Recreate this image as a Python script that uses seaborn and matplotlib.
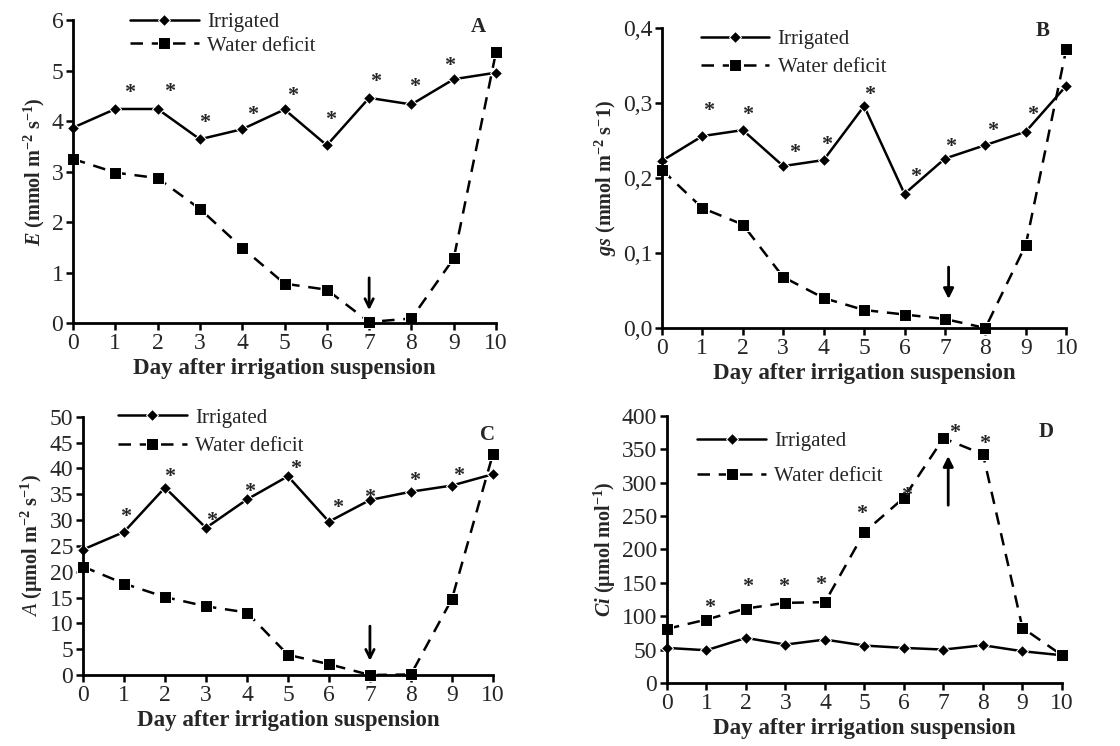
import matplotlib.pyplot as plt
import seaborn as sns

sns.set_style("ticks")
plt.rcParams["font.family"] = ["Liberation Serif", "DejaVu Serif"]
plt.rcParams["mathtext.fontset"] = "custom"
plt.rcParams["mathtext.rm"] = "Liberation Serif:bold"
plt.rcParams["mathtext.it"] = "Liberation Serif:italic"
plt.rcParams["mathtext.bf"] = "Liberation Serif:bold"
plt.rcParams["mathtext.bfit"] = "Liberation Serif:italic:bold"

days = list(range(11))

# panel A - transpiration
e_irr = [3.87, 4.24, 4.24, 3.64, 3.84, 4.23, 3.52, 4.46, 4.33, 4.83, 4.96]
e_def = [3.25, 2.98, 2.87, 2.26, 1.49, 0.78, 0.66, 0.02, 0.09, 1.28, 5.37]
e_star_x = [1.35, 2.28, 3.1, 4.24, 5.2, 6.1, 7.16, 8.08, 8.9]
e_star_y = [4.65, 4.68, 4.05, 4.22, 4.6, 4.12, 4.88, 4.78, 5.19]

# panel B - stomatal conductance
g_irr = [0.223, 0.256, 0.264, 0.216, 0.224, 0.296, 0.179, 0.226, 0.244, 0.262, 0.323]
g_def = [0.211, 0.160, 0.138, 0.068, 0.040, 0.024, 0.018, 0.012, 0.0, 0.111, 0.372]
g_star_x = [1.15, 2.12, 3.28, 4.08, 5.14, 6.28, 7.15, 8.18, 9.17]
g_star_y = [0.296, 0.291, 0.24, 0.251, 0.317, 0.208, 0.248, 0.269, 0.29]

# panel C - net photosynthesis
a_irr = [24.3, 27.7, 36.3, 28.5, 34.0, 38.5, 29.7, 33.9, 35.5, 36.7, 38.9]
a_def = [21.0, 17.7, 15.1, 13.3, 12.1, 3.9, 2.1, 0.0, 0.1, 14.7, 42.8]
a_star_x = [1.04, 2.12, 3.15, 4.07, 5.19, 6.2, 7.0, 8.08, 9.16]
a_star_y = [31.5, 39.2, 30.8, 36.3, 40.8, 33.2, 35.3, 38.5, 39.5]

# panel D - internal CO2
c_irr = [52.5, 49, 67.5, 57.5, 65, 56, 52.5, 50, 56.5, 47.5, 41.5]
c_def = [81, 95, 111.5, 120, 121, 226, 277.5, 366.5, 342.5, 82.5, 41.5]
c_star_x = [1.07, 2.03, 2.96, 3.89, 4.94, 6.07, 7.28, 8.04]
c_star_y = [120, 151, 151, 154, 260, 287, 382, 365]

b_ticks = [0, 0.1, 0.2, 0.3, 0.4]
b_ticklabels = ["0,0", "0,1", "0,2", "0,3", "0,4"]

fig = plt.figure(figsize=(11.2, 7.46), dpi=100)

panels = [
    dict(rect=[0.0652, 0.567, 0.3777, 0.406], irr=e_irr, dfc=e_def, sx=e_star_x, sy=e_star_y,
         ylim=(0, 6), yticks=[0, 1, 2, 3, 4, 5, 6], ytl=None,
         ylabel=r"$\mathbfit{E}$ (mmol m$^{-2}$ s$^{-1}$)", letter="A", lpos=(9.58, 5.87),
         arrow=((7, 0.95), (7, 0.2)), head="->", leg=(0.11, 1.06), lsp=0.2),
    dict(rect=[0.591, 0.5603, 0.361, 0.402], irr=g_irr, dfc=g_def, sx=g_star_x, sy=g_star_y,
         ylim=(0, 0.4), yticks=b_ticks, ytl=b_ticklabels,
         ylabel=r"$\mathbfit{gs}$ (mmol m$^{-2}$ s$^{-}$1)", letter="B", lpos=(9.42, 0.396),
         arrow=((7.09, 0.085), (7.09, 0.035)), head="-|>", leg=(0.07, 1.03), lsp=0.4),
    dict(rect=[0.0741, 0.0952, 0.366, 0.346], irr=a_irr, dfc=a_def, sx=a_star_x, sy=a_star_y,
         ylim=(0, 50), yticks=list(range(0, 51, 5)), ytl=None,
         ylabel=r"$\mathit{A}$ (µmol m$^{-2}$ s$^{-1}$)", letter="C", lpos=(9.87, 46.4),
         arrow=((7, 10), (7, 2.2)), head="->", leg=(0.06, 1.075), lsp=0.45),
    dict(rect=[0.5955, 0.0845, 0.3527, 0.358], irr=c_irr, dfc=c_def, sx=c_star_x, sy=c_star_y,
         ylim=(0, 400), yticks=list(range(0, 401, 50)), ytl=None,
         ylabel=r"$\mathbfit{Ci}$ (µmol mol$^{-1}$)", letter="D", lpos=(9.6, 376),
         arrow=((7.12, 262), (7.12, 344)), head="-|>", leg=(0.05, 0.98), lsp=0.75),
]

for p in panels:
    ax = fig.add_axes(p["rect"])
    sns.lineplot(x=days, y=p["irr"], ax=ax, color="black", lw=1.8, marker="D", markersize=6,
                 label="Irrigated", clip_on=False)
    sns.lineplot(x=days, y=p["dfc"], ax=ax, color="black", lw=1.8, linestyle=(0, (5, 3.5)),
                 marker="s", markersize=8.5, label="Water deficit", clip_on=False)
    # significance asterisks (glyph sits high in its box, so nudge it down)
    for sx, sy in zip(p["sx"], p["sy"]):
        ax.annotate("*", (sx, sy), xytext=(0, -3.5), textcoords="offset points",
                    ha="center", va="center", fontsize=16, fontweight="bold")
    (x0, y0), (x1, y1) = p["arrow"]
    ax.annotate("", xy=(x1, y1), xytext=(x0, y0),
                arrowprops=dict(arrowstyle=p["head"] + ",head_length=0.6,head_width=0.3",
                                color="black", lw=2))
    ax.text(p["lpos"][0], p["lpos"][1], p["letter"], ha="center", va="center",
            fontsize=15, fontweight="bold")
    ax.set_xlim(0, 10)
    ax.set_ylim(*p["ylim"])
    ax.set_xticks(days)
    ax.set_yticks(p["yticks"])
    if p["ytl"] is not None:
        ax.set_yticklabels(p["ytl"])
    ax.tick_params(labelsize=17, width=1.8, length=5, color="black", pad=2)
    ax.set_xlabel("Day after irrigation suspension", fontsize=16.5, fontweight="bold", labelpad=3)
    ax.set_ylabel(p["ylabel"], fontsize=14.5, fontweight="bold", labelpad=3)
    for side in ["left", "bottom"]:
        ax.spines[side].set_linewidth(2)
        ax.spines[side].set_color("black")
    sns.despine(ax=ax)
    ax.legend(loc="upper left", bbox_to_anchor=p["leg"], frameon=False, fontsize=15,
              handlelength=3.3, handletextpad=0.4, labelspacing=p["lsp"], borderpad=0)

fig.savefig("out.png", dpi=100)
